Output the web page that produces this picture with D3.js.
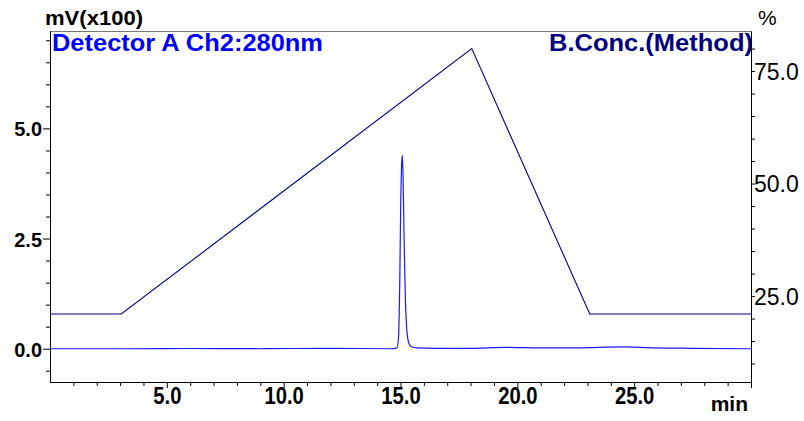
<!DOCTYPE html>
<html>
<head>
<meta charset="utf-8">
<script src="https://cdn.jsdelivr.net/npm/d3@7"></script>
<style>
  body { margin: 0; background: #fff; }
  svg { display: block; font-family: Arial, "Liberation Sans", sans-serif; }
</style>
</head>
<body>
<div id="canvas"></div>
<script>
// chromatogram, detector A ch2 280nm (time in min, signal in mV x100)
var sigTime  = [0, 3, 6, 9, 12, 14.6, 14.85, 14.92, 14.97, 15.01, 15.05, 15.08, 15.11, 15.15, 15.2, 15.26, 15.32, 15.4, 15.5, 15.7, 16.5, 18, 19.5, 21, 22.5, 24.5, 25.8, 27.5, 30];
var sigValue = [0, 0, 0.005, 0, 0.01, 0, 0.02, 0.3, 1.6, 3.3, 4.2, 4.39, 3.9, 2.6, 1.3, 0.5, 0.2, 0.08, 0.04, 0.02, 0.01, 0.01, 0.03, 0.02, 0.02, 0.04, 0.02, 0.01, 0];

// B.Conc. method gradient (%)
var gradTime  = [0, 3.05, 18.05, 23.1, 30];
var gradValue = [21, 21, 80, 21, 21];

var xTicks      = [5, 10, 15, 20, 25];
var yLeftTicks  = [0, 2.5, 5];
var yRightTicks = [25, 50, 75];

var W = 804, H = 421;
var m = {t: 31, r: 53, b: 39, l: 50},
    w = W - m.l - m.r,
    h = H - m.t - m.b;

var svg = d3.select('#canvas').append('svg')
    .attr('width', W).attr('height', H);

var plot = svg.append('g').attr('transform', 'translate(' + m.l + ',' + m.t + ')');

var x  = d3.scaleLinear().domain([0, 30]).range([0, w]);
var yL = d3.scaleLinear().domain([-0.755, 7.21]).range([h, 0]);
var yR = d3.scaleLinear().domain([5.9, 83.9]).range([h, 0]);

svg.append('defs').append('clipPath').attr('id', 'clip')
  .append('rect').attr('width', w).attr('height', h);

// frame top
plot.append('line').attr('x1', 0).attr('x2', w).attr('y1', 0.5).attr('y2', 0.5)
    .style('stroke', '#777').style('stroke-width', 1);

function styleAxis(g) {
  g.select('.domain').style('stroke', '#000');
  g.selectAll('.tick line').style('stroke', '#000');
}
// squeeze glyphs a bit, the original font is narrower than Arial
function narrow(sel, k) {
  sel.each(function(){
    var len = this.getComputedTextLength();
    d3.select(this).attr('textLength', len * k).attr('lengthAdjust', 'spacingAndGlyphs');
  });
}

var xMinor = d3.range(1, 31, 1).filter(function(d){ return d % 5 !== 0; });
plot.append('g').attr('transform', 'translate(0,' + h + ')')
    .call(d3.axisBottom(x).tickValues(xMinor).tickSize(4).tickFormat('').tickSizeOuter(0))
    .call(styleAxis);
var gx = plot.append('g').attr('transform', 'translate(0,' + h + ')')
    .call(d3.axisBottom(x).tickValues(xTicks.concat([30])).tickSize(6).tickSizeOuter(0)
      .tickFormat(function(d){ return d === 30 ? '' : d3.format('.1f')(d); }))
    .call(styleAxis);
gx.selectAll('text').attr('y', 22).attr('dy', 0)
    .style('font-size', '23px').style('font-weight', 'bold').style('fill', '#000')
    .call(narrow, 0.88);

var yLMinor = d3.range(-0.5, 7.01, 0.5).filter(function(d){ return Math.abs(d % 2.5) > 1e-6; });
plot.append('g')
    .call(d3.axisLeft(yL).tickValues(yLMinor).tickSize(4).tickFormat('').tickSizeOuter(0))
    .call(styleAxis);
var gyl = plot.append('g')
    .call(d3.axisLeft(yL).tickValues(yLeftTicks).tickSize(7).tickSizeOuter(0).tickFormat(d3.format('.1f')))
    .call(styleAxis);
gyl.selectAll('text').attr('x', -8).attr('dy', '0.36em')
    .style('font-size', '21px').style('font-weight', 'bold').style('fill', '#000')
    .call(narrow, 0.95);

var yRMinor = d3.range(10, 81, 5).filter(function(d){ return d % 25 !== 0; });
plot.append('g').attr('transform', 'translate(' + w + ',0)')
    .call(d3.axisRight(yR).tickValues(yRMinor).tickSize(4).tickFormat('').tickSizeOuter(0))
    .call(styleAxis);
var gyr = plot.append('g').attr('transform', 'translate(' + w + ',0)')
    .call(d3.axisRight(yR).tickValues(yRightTicks).tickSize(4).tickSizeOuter(0).tickFormat(d3.format('.1f')))
    .call(styleAxis);
gyr.selectAll('text').attr('x', 3).attr('dy', '0.36em')
    .style('font-size', '23px').style('fill', '#000');

// lines
var gradLine = d3.line()
    .x(function(d, i){ return x(gradTime[i]); })
    .y(function(d){ return yR(d); });
var sigLine = d3.line()
    .x(function(d, i){ return x(sigTime[i]); })
    .y(function(d){ return yL(d); })
    .curve(d3.curveMonotoneX);

var lines = plot.append('g').attr('clip-path', 'url(#clip)');
lines.append('path').attr('d', gradLine(gradValue))
    .style('fill', 'none').style('stroke', '#000080').style('stroke-width', 1.1);
lines.append('path').attr('d', sigLine(sigValue))
    .style('fill', 'none').style('stroke', '#1a1aff').style('stroke-width', 1.2);

// labels
svg.append('text').attr('x', 45).attr('y', 25).text('mV(x100)')
    .attr('textLength', 98).attr('lengthAdjust', 'spacingAndGlyphs')
    .style('font-size', '21px').style('font-weight', 'bold');
svg.append('text').attr('x', 52).attr('y', 51).text('Detector A Ch2:280nm')
    .attr('textLength', 271).attr('lengthAdjust', 'spacingAndGlyphs')
    .style('font-size', '24px').style('font-weight', 'bold').style('fill', '#0000ff');
svg.append('text').attr('x', 549).attr('y', 51).text('B.Conc.(Method)')
    .attr('textLength', 204).attr('lengthAdjust', 'spacingAndGlyphs')
    .style('font-size', '24px').style('font-weight', 'bold').style('fill', '#000080');
svg.append('text').attr('x', 758).attr('y', 25).text('%')
    .style('font-size', '21px');
svg.append('text').attr('x', 748).attr('y', 411).attr('text-anchor', 'end').text('min')
    .style('font-size', '21px').style('font-weight', 'bold');
</script>
</body>
</html>
